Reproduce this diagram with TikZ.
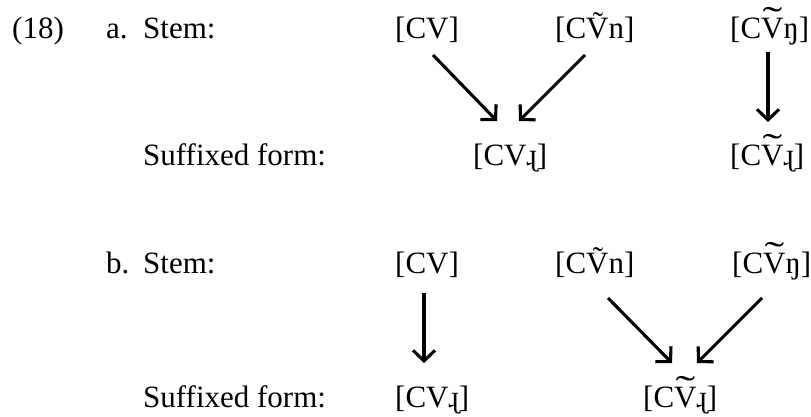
\documentclass[tikz,border=0pt]{standalone}
\usepackage{fontspec}
\usepackage{graphicx}
\setmainfont{Liberation Serif}
\usetikzlibrary{arrows.meta,calc}
\newcommand\myWideV{\ooalign{V\cr\hidewidth\raisebox{0.21em}{\scalebox{1.9}[1.15]{\char"02DC}}\hidewidth\cr}}
\begin{document}
\begin{tikzpicture}[x=1pt,y=-1pt,
  lbl/.style={inner sep=0pt,anchor=base west,font=\fontsize{31}{37}\selectfont},
  arr/.style={line width=3.1pt,-{Straight Barb[length=10.5pt,width=22pt]}}]
\useasboundingbox (0,0) rectangle (811,416);
% row a
\node[lbl] (n18) at (12,38) {(18)};
\node[lbl] (la) at (106,38) {a.};
\node[lbl] (stema) at (143,38) {Stem:};
\node[lbl] (sufa) at (143,165) {Suffixed form:};
\node[lbl] (cva) at (395,38) {[CV]};
\node[lbl] (cvna) at (555,38) {[CV\char"0303 n]};
\node[lbl] (cvnga) at (730,38) {[C\myWideV ŋ]};
\node[lbl] (cvra) at (473,165) {[CVɻ]};
\node[lbl] (cvnra) at (730,165) {[C\myWideV ɻ]};
\draw[arr] ($(cva.base west)+(38,17)$) -- ($(cvra.base west)+(24,-44)$);
\draw[arr] ($(cvna.base west)+(30,17)$) -- ($(cvra.base west)+(46,-44)$);
\draw[arr] ($(cvnga.base west)+(38,14)$) -- ($(cvnra.base west)+(38,-43)$);
% row b
\node[lbl] (lb) at (106,273) {b.};
\node[lbl] (stemb) at (143,273) {Stem:};
\node[lbl] (sufb) at (143,407) {Suffixed form:};
\node[lbl] (cvb) at (395,273) {[CV]};
\node[lbl] (cvnb) at (555,273) {[CV\char"0303 n]};
\node[lbl] (cvngb) at (732,273) {[C\myWideV ŋ]};
\node[lbl] (cvrb) at (395,407) {[CVɻ]};
\node[lbl] (cvnrb) at (643,407) {[C\myWideV ɻ]};
\draw[arr] ($(cvb.base west)+(29,20)$) -- ($(cvrb.base west)+(29,-44)$);
\draw[arr] ($(cvnb.base west)+(53,25)$) -- ($(cvnrb.base west)+(29,-44)$);
\draw[arr] ($(cvngb.base west)+(30,25)$) -- ($(cvnrb.base west)+(54,-44)$);
\end{tikzpicture}
\end{document}
